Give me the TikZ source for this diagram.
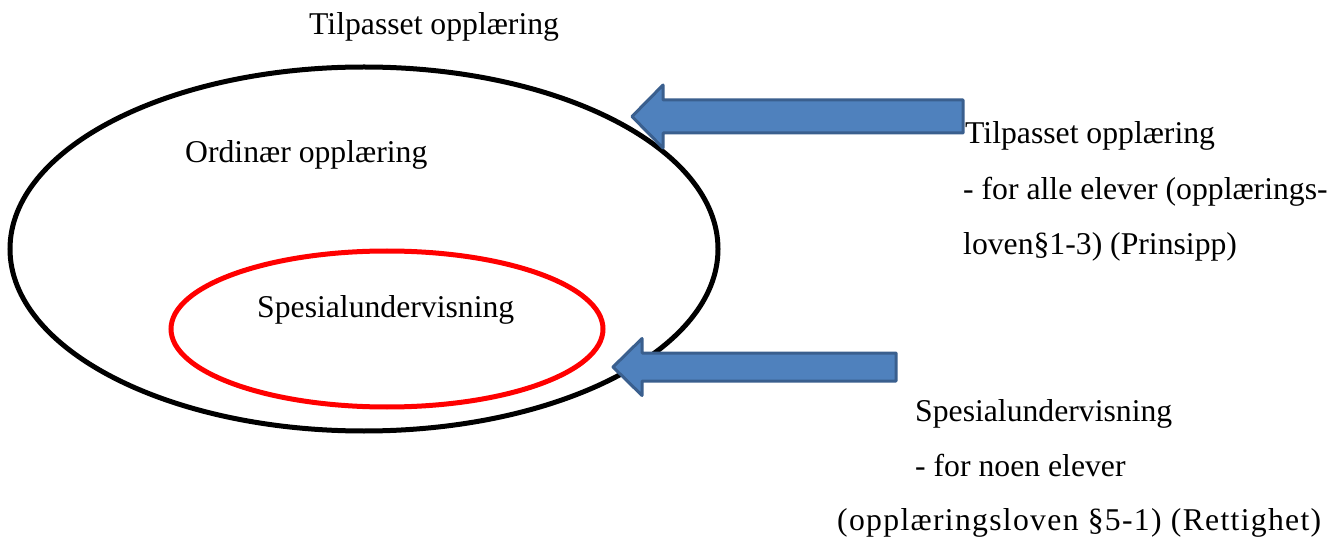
\documentclass[tikz,border=0pt]{standalone}
\usepackage{fontspec}
\setmainfont{Liberation Serif}
\begin{document}
\begin{tikzpicture}[x=1pt,y=-1pt,
  lbl/.style={anchor=base west,inner sep=0pt,font=\fontsize{31.7}{38}\selectfont},
  ring/.style={line width=5pt},
  blockarrow/.style={fill=arrowfill,draw=arrowedge,line width=3pt,line join=round}]
\definecolor{arrowfill}{HTML}{4F81BD}
\definecolor{arrowedge}{HTML}{3A5F8E}
\useasboundingbox (0,0) rectangle (1336,537);
\fill[white] (0,0) rectangle (1336,537);

% outer and inner circles of the model
\draw[ring,black] (364,249) ellipse [x radius=354,y radius=182];
\draw[ring,red] (387,329) ellipse [x radius=216,y radius=78];

% block arrows pointing into the circles
\draw[blockarrow] (963,100) -- (663,100) -- (663,85) -- (632,116.5)
  -- (663,148) -- (663,133) -- (963,133) -- cycle;
\draw[blockarrow] (896,353) -- (642,353) -- (642,338.5) -- (613,367)
  -- (642,395.5) -- (642,381) -- (896,381) -- cycle;

% labels
\node[lbl] (top) at (309,35) {Tilpasset opplæring};
\node[lbl] (ord) at (185,163) {Ordinær opplæring};
\node[lbl] (spes) at (257,317) {Spesialundervisning};

\node[lbl] (ta) at (965,144) {Tilpasset opplæring};
\node[lbl] (tb) at (963,200) {- for alle elever (opplærings-};
\node[lbl] (tc) at (963,255) {loven§1-3) (Prinsipp)};

\node[lbl] (sa) at (915,421) {Spesialundervisning};
\node[lbl] (sb) at (915,476) {- for noen elever};
\node[lbl] (sc) at (837,530) {\addfontfeature{LetterSpace=4.1}(opplæringsloven §5-1) (Rettighet)};
\end{tikzpicture}
\end{document}
